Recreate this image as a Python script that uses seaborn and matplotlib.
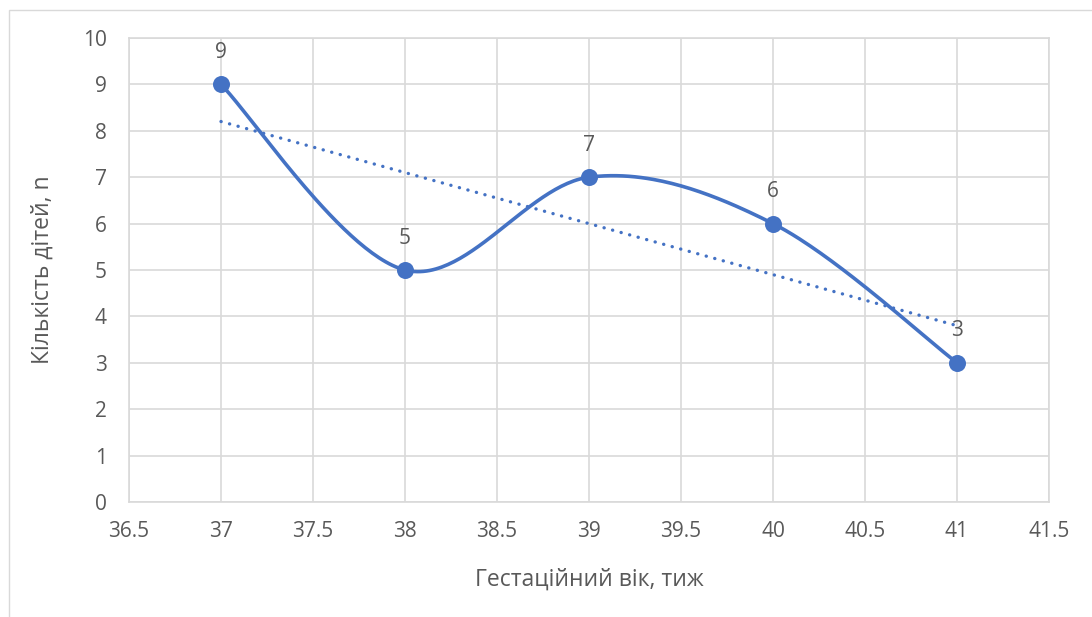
import numpy as np
import pandas as pd
import matplotlib
matplotlib.use("Agg")
import matplotlib.pyplot as plt
from matplotlib.patches import Rectangle
import seaborn as sns

# Gestational age (weeks) and number of children
weeks = [37, 38, 39, 40, 41]
children = [9, 5, 7, 6, 3]
x_ticks = [36.5, 37, 37.5, 38, 38.5, 39, 39.5, 40, 40.5, 41, 41.5]
y_ticks = [0, 1, 2, 3, 4, 5, 6, 7, 8, 9, 10]
x_label = "Гестаційний вік, тиж"
y_label = "Кількість дітей, n"

BLUE = "#4472C4"
GRID = "#D9D9D9"
TEXT = "#595959"

sns.set_theme(style="white")
plt.rcParams["font.family"] = ["Open Sans", "DejaVu Sans"]


def smooth_curve(xs, ys, steps=60):
    """Cubic Bezier smoothing through the points (Catmull-Rom style control points)."""
    pts = np.column_stack([xs, ys]).astype(float)
    n = len(pts)
    out = []
    for i in range(n - 1):
        p_prev = pts[max(i - 1, 0)]
        p0 = pts[i]
        p1 = pts[i + 1]
        p_next = pts[min(i + 2, n - 1)]
        c1 = p0 + (p1 - p_prev) / 6.0
        c2 = p1 - (p_next - p0) / 6.0
        t = np.linspace(0, 1, steps, endpoint=(i == n - 2))[:, None]
        seg = ((1 - t) ** 3) * p0 + 3 * ((1 - t) ** 2) * t * c1 + 3 * (1 - t) * t ** 2 * c2 + t ** 3 * p1
        out.append(seg)
    out = np.vstack(out)
    return out[:, 0], out[:, 1]


df = pd.DataFrame({"weeks": weeks, "children": children})
sx, sy = smooth_curve(weeks, children)
curve = pd.DataFrame({"weeks": sx, "children": sy})

fig = plt.figure(figsize=(10.92, 6.17), dpi=100)
ax = fig.add_axes([129 / 1092, 1 - 502 / 617, 920 / 1092, 464 / 617])

# Outer chart frame
fig.patches.append(Rectangle((9 / 1092, -0.1), 1.2, (617 - 10) / 617 + 0.1,
                             transform=fig.transFigure, fill=False,
                             edgecolor=GRID, linewidth=1.0, zorder=0))

# Linear trend line
sns.regplot(data=df, x="weeks", y="children", ax=ax, ci=None, scatter=False,
            truncate=True,
            line_kws=dict(color=BLUE, lw=2.4, linestyle=(0, (0.05, 2.6)),
                          dash_capstyle="round", solid_capstyle="round", zorder=3))

# Smoothed series line and markers
sns.lineplot(data=curve, x="weeks", y="children", sort=False, ax=ax,
             color=BLUE, lw=2.6, zorder=4)
sns.scatterplot(data=df, x="weeks", y="children", ax=ax, color=BLUE,
                s=150, edgecolor=BLUE, linewidth=0, zorder=5)

# Data labels
for xv, yv in zip(weeks, children):
    ax.annotate(f"{yv}", (xv, yv), xytext=(0, 23), textcoords="offset points",
                ha="center", va="center", fontsize=15, color=TEXT, zorder=6)

ax.set_xlim(36.5, 41.5)
ax.set_ylim(0, 10)
ax.set_xticks(x_ticks)
ax.set_xticklabels([f"{v:g}" for v in x_ticks])
ax.set_yticks(y_ticks)
ax.grid(True, color=GRID, lw=1.2)
ax.set_axisbelow(True)
for s in ax.spines.values():
    s.set_color(GRID)
    s.set_linewidth(1.2)
ax.tick_params(axis="both", length=0, labelsize=15, colors=TEXT)
ax.tick_params(axis="x", pad=14)
ax.tick_params(axis="y", pad=16)
ax.set_xlabel(x_label, fontsize=16.5, color=TEXT, labelpad=18)
ax.set_ylabel(y_label, fontsize=16.5, color=TEXT, labelpad=20)

fig.savefig("out.png", dpi=100, facecolor="white")
